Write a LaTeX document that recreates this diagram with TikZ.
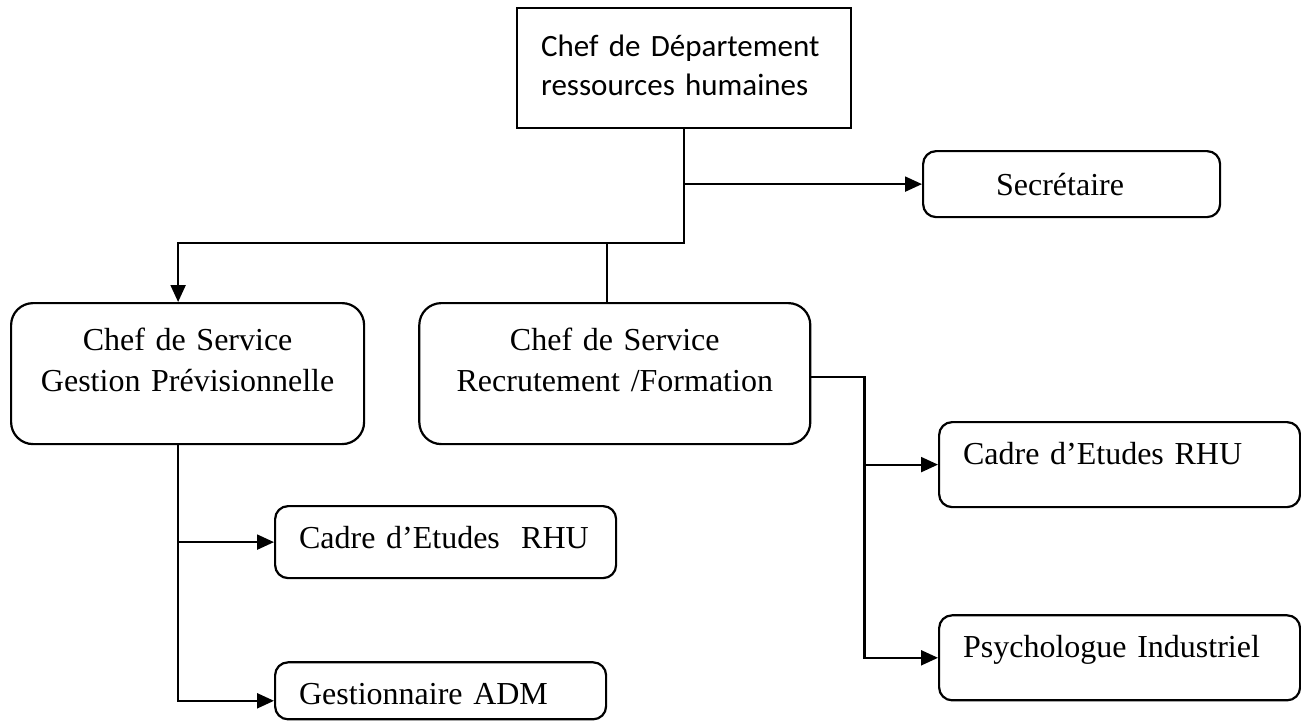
\documentclass[tikz,border=0pt]{standalone}
\usepackage{fontspec}
\setmainfont{Liberation Serif}
\newfontfamily\calibri{Carlito}
\usetikzlibrary{arrows.meta,positioning}
\tikzset{
  chefbox/.style={draw, line width=2.2pt, inner xsep=24pt, inner ysep=0pt, align=left, font=\calibri\fontsize{31}{39}\selectfont},
  service/.style={draw, rounded corners=22pt, line width=2.2pt, inner sep=0pt, align=center},
  poste/.style={draw, rounded corners=13pt, line width=2.2pt, inner xsep=24pt, inner ysep=0pt, align=left, text height=42pt},
  edge/.style={-{Triangle[length=17pt, width=15pt]}, line width=2.2pt},
  link/.style={line width=2.2pt}
}

\begin{document}
\begin{tikzpicture}[x=1pt, y=1pt, font=\fontsize{32}{41}\selectfont]
    \useasboundingbox (0,0) rectangle (1301,-721);
    \node [chefbox, anchor=north west, text width=286pt, text height=48pt, text depth=72pt] (chef) at (516,-7) {Chef de Département\\ressources humaines};
    \node [poste, anchor=north west, inner xsep=73pt, text width=151pt, text height=44pt, text depth=22pt] (secr) at (922,-150) {Secrétaire};
    \node [service, anchor=north west, text width=353pt, text height=47pt, text depth=94pt] (gestion) at (10,-302) {Chef de Service\\Gestion Prévisionnelle};
    \node [service, right=53pt of gestion, text width=391pt, text height=47pt, text depth=94pt] (recrut) {Chef de Service\\Recrutement /Formation};
    \node [poste, anchor=north west, text width=293pt, text depth=30pt] (cadreL) at (274,-505) {Cadre d’Etudes~ RHU};
    \node [poste, below=82pt of cadreL.south west, anchor=north west, text width=283pt, text depth=15pt] (gestadm) {Gestionnaire ADM};
    \node [poste, anchor=north west, text width=313pt, text depth=43pt] (cadreR) at (938,-421) {Cadre d’Etudes RHU};
    \node [poste, below=106pt of cadreR, text width=313pt, text depth=43pt] (psych) {Psychologue Industriel};

    \coordinate (bus) at ([yshift=-114pt]chef.south);
    \coordinate (axeM) at ([xshift=-7.5pt]recrut.north);
    \coordinate (axeG) at ([xshift=-9.5pt]gestion.south);
    \coordinate (axeR) at ([xshift=53pt, yshift=-3.5pt]recrut.east);

    \draw [edge] (chef.south) -- (bus) -| ([xshift=-9.5pt]gestion.north);
    \draw [edge] (chef.south |- secr.west) -- (secr.west);
    \draw [link] (axeM |- bus) -- (axeM);
    \draw [edge] (axeG) |- ([yshift=-10pt]gestadm.west);
    \draw [edge] (axeG |- cadreL.west) -- (cadreL.west);
    \draw [edge] (axeR -| recrut.east) -- (axeR) |- (psych.west);
    \draw [edge] (axeR |- cadreR.west) -- (cadreR.west);
\end{tikzpicture}
\end{document}
